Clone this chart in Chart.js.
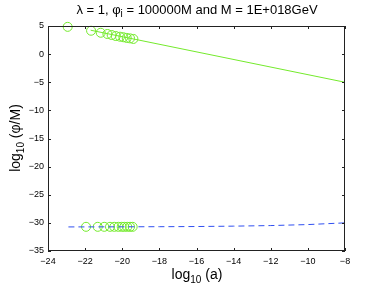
<!DOCTYPE html>
<html>
<head>
<meta charset="utf-8">
<script src="https://cdn.jsdelivr.net/npm/chart.js@4.4.1/dist/chart.umd.min.js"></script>
<style>
  html, body { margin: 0; padding: 0; background: #fff; }
  #wrap { width: 382px; height: 287px; position: relative; }
</style>
</head>
<body>
<div id="wrap"><canvas id="phiChart"></canvas></div>
<script>
const xTicks = [-24, -22, -20, -18, -16, -14, -12, -10, -8];
const yTicks = [5, 0, -5, -10, -15, -20, -25, -30, -35];

// numerical points (circles)
const greenCircleA = [-22.94, -21.68, -21.16, -20.8, -20.57, -20.35, -20.12, -19.94, -19.76, -19.58, -19.4];
const greenCircleLogPhi = [4.85, 4.16, 3.8, 3.58, 3.4, 3.22, 3.1, 3.0, 2.88, 2.8, 2.7];
const lowCircleA = [-21.95, -21.32, -20.97, -20.66, -20.43, -20.21, -20.03, -19.89, -19.73, -19.58, -19.44];
const lowCircleLogPhi = [-30.7, -30.7, -30.7, -30.7, -30.7, -30.7, -30.7, -30.7, -30.7, -30.7, -30.7];

// analytic curves
const lineA = [-21.7, -8];
const lineLogPhi = [4.25, -5.0];
const dashA = [-22.9, -20, -18, -16, -14, -12, -10, -9, -8];
const dashLogPhi = [-30.72, -30.7, -30.68, -30.65, -30.58, -30.48, -30.3, -30.15, -30.0];

const GREEN = "#74ea2c";
const BLUE = "#2f4ff0";
const FONT = "'Liberation Sans', Arial, sans-serif";

const toPoints = (xs, ys) => xs.map((v, i) => ({ x: v, y: ys[i] }));
const minus = (v) => (v < 0 ? "\u2212" + Math.abs(v) : String(v));

// draws text pieces [text, size, dy] left to right, centred on cx
function drawPieces(ctx, pieces, cx, baseY) {
  let total = 0;
  pieces.forEach((p) => {
    ctx.font = p[1] + "px " + FONT;
    total += ctx.measureText(p[0]).width;
  });
  let px = cx - total / 2;
  pieces.forEach((p) => {
    ctx.font = p[1] + "px " + FONT;
    ctx.fillText(p[0], px, baseY + p[2]);
    px += ctx.measureText(p[0]).width;
  });
}

const frame = {
  id: "frame",
  afterDraw(chart) {
    const { ctx, chartArea: a, scales } = chart;
    ctx.save();
    ctx.strokeStyle = "#222";
    ctx.lineWidth = 1;
    ctx.strokeRect(a.left + 0.5, a.top + 0.5, a.right - a.left - 1, a.bottom - a.top - 1);

    // inward ticks on all four sides
    ctx.beginPath();
    xTicks.forEach((v) => {
      const px = Math.round(scales.x.getPixelForValue(v)) + 0.5;
      ctx.moveTo(px, a.bottom);
      ctx.lineTo(px, a.bottom - 3);
      ctx.moveTo(px, a.top);
      ctx.lineTo(px, a.top + 3);
    });
    yTicks.forEach((v) => {
      const py = Math.round(scales.y.getPixelForValue(v)) + 0.5;
      ctx.moveTo(a.left, py);
      ctx.lineTo(a.left + 3, py);
      ctx.moveTo(a.right, py);
      ctx.lineTo(a.right - 3, py);
    });
    ctx.stroke();

    // title and axis labels
    ctx.fillStyle = "#000";
    ctx.textBaseline = "alphabetic";
    ctx.textAlign = "left";
    drawPieces(ctx, [
      ["\u03bb = 1, \u03c6", 13, 0],
      ["i", 10, 3],
      [" = 100000M and M = 1E+018GeV", 13, 0],
    ], 197, 14);

    drawPieces(ctx, [
      ["log", 14, 0],
      ["10", 10, 4],
      [" (a)", 14, 0],
    ], 197, 279);

    ctx.translate(20, 138);
    ctx.rotate(-Math.PI / 2);
    drawPieces(ctx, [
      ["log", 14, 0],
      ["10", 10, 4],
      [" (\u03c6/M)", 14, 0],
    ], 0, 0);
    ctx.restore();
  },
};

new Chart(document.getElementById("phiChart"), {
  type: "scatter",
  plugins: [frame],
  data: {
    datasets: [
      {
        data: toPoints(lineA, lineLogPhi),
        showLine: true,
        borderColor: GREEN,
        borderWidth: 1,
        pointRadius: 0,
      },
      {
        data: toPoints(dashA, dashLogPhi),
        showLine: true,
        borderColor: BLUE,
        borderWidth: 1,
        borderDash: [6, 4],
        pointRadius: 0,
      },
      {
        data: toPoints(greenCircleA, greenCircleLogPhi),
        clip: false,
        pointStyle: "circle",
        pointRadius: 4.5,
        pointBorderColor: GREEN,
        pointBackgroundColor: "rgba(0,0,0,0)",
        pointBorderWidth: 1,
      },
      {
        data: toPoints(lowCircleA, lowCircleLogPhi),
        clip: false,
        pointStyle: "circle",
        pointRadius: 4.5,
        pointBorderColor: GREEN,
        pointBackgroundColor: "rgba(0,0,0,0)",
        pointBorderWidth: 1,
      },
    ],
  },
  options: {
    responsive: true,
    maintainAspectRatio: false,
    animation: false,
    layout: {
      padding: { top: 26, right: 37, left: 0, bottom: 0 },
    },
    plugins: {
      legend: { display: false },
      tooltip: { enabled: false },
    },
    scales: {
      x: {
        type: "linear",
        min: -24,
        max: -8,
        afterBuildTicks: (scale) => {
          scale.ticks = xTicks.map((v) => ({ value: v }));
        },
        afterFit: (scale) => {
          scale.height = 36;
        },
        ticks: {
          autoSkip: false,
          maxRotation: 0,
          padding: 5,
          color: "#000",
          font: { family: FONT, size: 9 },
          callback: (v) => minus(v),
        },
        grid: { display: false, drawTicks: false },
        border: { display: false },
      },
      y: {
        type: "linear",
        min: -35,
        max: 5,
        afterBuildTicks: (scale) => {
          scale.ticks = yTicks.map((v) => ({ value: v }));
        },
        afterFit: (scale) => {
          scale.width = 48;
        },
        ticks: {
          autoSkip: false,
          padding: 4,
          color: "#000",
          font: { family: FONT, size: 9 },
          callback: (v) => minus(v),
        },
        grid: { display: false, drawTicks: false },
        border: { display: false },
      },
    },
  },
});
</script>
</body>
</html>
